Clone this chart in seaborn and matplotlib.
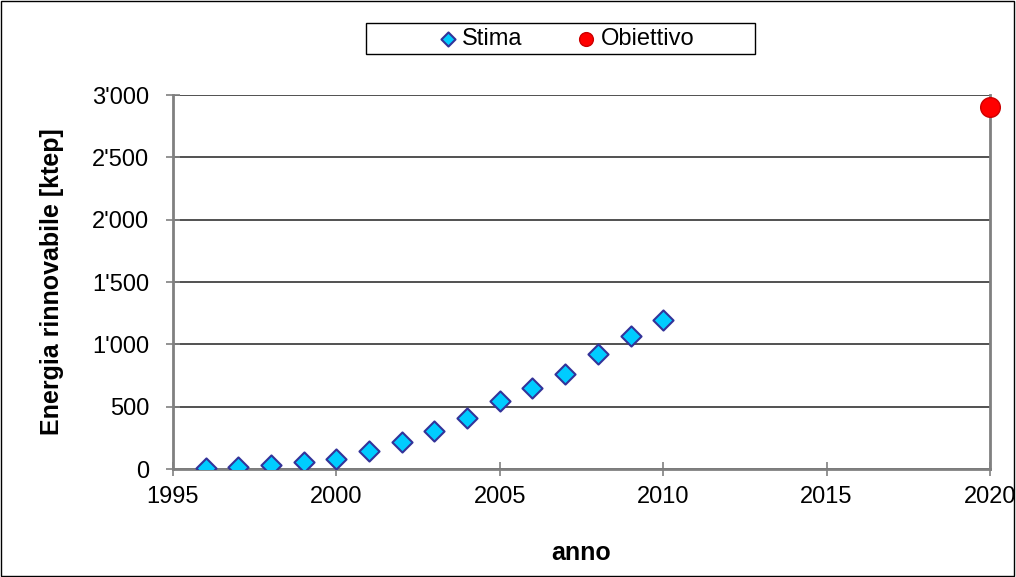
import seaborn as sns
import pandas as pd
import matplotlib
matplotlib.use("Agg")
import matplotlib.pyplot as plt
from matplotlib.ticker import FuncFormatter

sns.set_style("white")
plt.rcParams['font.family'] = ['Liberation Sans', 'DejaVu Sans']
plt.rcParams['text.color'] = 'black'
plt.rcParams['axes.labelcolor'] = 'black'

# data
anni = [1996, 1997, 1998, 1999, 2000, 2001, 2002, 2003, 2004, 2005,
        2006, 2007, 2008, 2009, 2010]
stima = [5, 18, 35, 54, 80, 147, 219, 305, 409, 548,
         650, 764, 920, 1069, 1197]
anno_obiettivo = [2020]
obiettivo = [2900]

df_stima = pd.DataFrame({"anno": anni, "energia": stima})
df_obj = pd.DataFrame({"anno": anno_obiettivo, "energia": obiettivo})

W, H = 1016, 577
fig = plt.figure(figsize=(W / 100, H / 100), dpi=100)
ax = fig.add_axes([173 / W, 1 - 469 / H, (990 - 173) / W, (469 - 95) / H])

# outer frame of the picture
fig.patches.append(plt.Rectangle((0.001, 0.002), 0.997, 0.996, transform=fig.transFigure,
                                 fill=False, edgecolor="black", linewidth=1))

sns.scatterplot(data=df_stima, x="anno", y="energia", marker="D", s=105,
                color="#00CCFF", edgecolor="#333399", linewidth=1.5,
                label="Stima", ax=ax, zorder=3)
sns.scatterplot(data=df_obj, x="anno", y="energia", marker="o", s=200,
                color="#FF0000", edgecolor="#CC0000", linewidth=1,
                label="Obiettivo", ax=ax, zorder=4, clip_on=False)

ax.set_xlim(1995, 2020)
ax.set_ylim(0, 3000)
ax.set_xticks(range(1995, 2021, 5))
ax.set_yticks(range(0, 3001, 500))
ax.yaxis.set_major_formatter(FuncFormatter(lambda v, p: f"{int(v):,}".replace(",", "'")))

ax.grid(axis="y", color="#333333", linewidth=1.2)
ax.set_axisbelow(True)
for side in ["left", "bottom", "right"]:
    ax.spines[side].set_visible(True)
    ax.spines[side].set_color("#808080")
    ax.spines[side].set_linewidth(2)
ax.spines["top"].set_visible(False)

ax.tick_params(axis="both", direction="inout", length=10, width=1.2, color="#808080",
               labelsize=17, labelcolor="black", left=True, bottom=True)
ax.tick_params(axis="y", pad=12)
ax.tick_params(axis="x", pad=7)

ax.set_xlabel("anno", fontsize=18, fontweight="bold", labelpad=24)
ax.set_ylabel("Energia rinnovabile [ktep]", fontsize=18, fontweight="bold", labelpad=20)

# legend box (wider than its content, like the original)
legend_box = plt.Rectangle((366 / W, 1 - 54 / H), (755 - 366) / W, 31 / H,
                           transform=fig.transFigure, facecolor="white",
                           edgecolor="black", linewidth=1, clip_on=False, zorder=4.5)
ax.add_patch(legend_box)

leg = ax.legend(loc="center", bbox_to_anchor=(564 / W, 1 - 39 / H),
                bbox_transform=fig.transFigure,
                ncol=2, fontsize=17, frameon=False, borderpad=0,
                handletextpad=0.0, columnspacing=2.1, handlelength=1.2,
                markerscale=0.7, borderaxespad=0)
leg.set_zorder(6)

plt.savefig("out.png", dpi=100)
